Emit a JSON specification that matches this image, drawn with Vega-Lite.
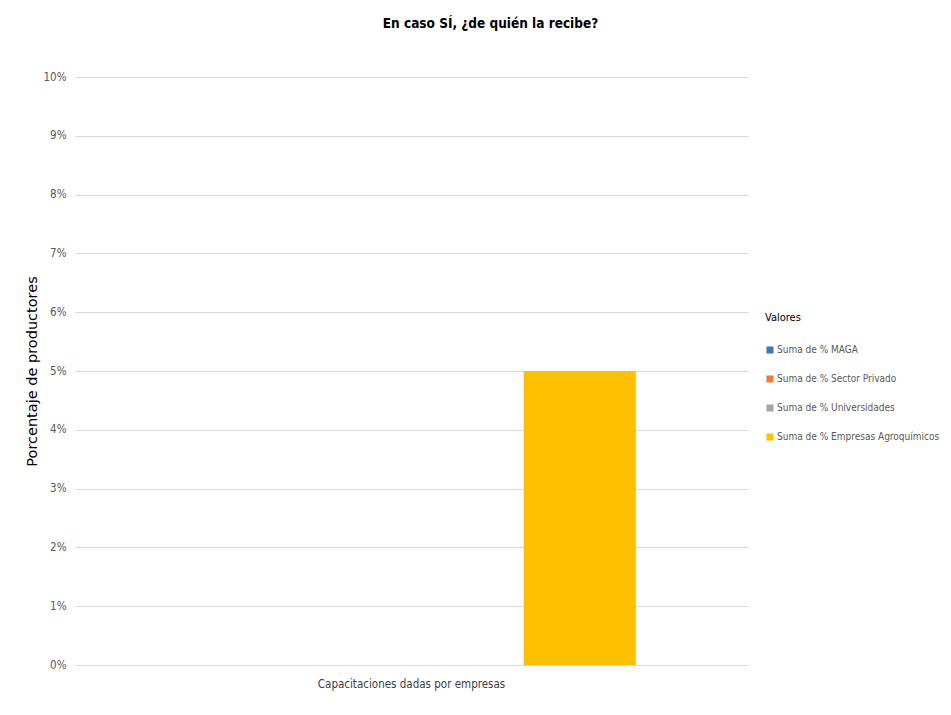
{
  "$schema": "https://vega.github.io/schema/vega-lite/v6.json",
  "width": 673,
  "height": 588,
  "autosize": {"type": "none"},
  "padding": {"left": 75, "top": 77, "right": 203, "bottom": 50},
  "background": "white",
  "title": {
    "text": "En caso SÍ, ¿de quién la recibe?",
    "font": "DejaVu Sans Condensed",
    "fontSize": 13.5,
    "fontWeight": "bold",
    "color": "#000000",
    "anchor": "middle",
    "dx": 79,
    "offset": 41
  },
  "data": {
    "values": [
      {"categoria": "Capacitaciones dadas por empresas", "serie": "Suma de % MAGA", "valor": 0},
      {"categoria": "Capacitaciones dadas por empresas", "serie": "Suma de % Sector Privado", "valor": 0},
      {"categoria": "Capacitaciones dadas por empresas", "serie": "Suma de % Universidades", "valor": 0},
      {"categoria": "Capacitaciones dadas por empresas", "serie": "Suma de % Empresas Agroquímicos", "valor": 0.05}
    ]
  },
  "mark": {"type": "bar"},
  "encoding": {
    "x": {
      "field": "categoria",
      "type": "nominal",
      "scale": {"paddingInner": 0, "paddingOuter": 0},
      "axis": {
        "title": null,
        "labelAngle": 0,
        "labelFont": "DejaVu Sans Condensed",
        "labelFontSize": 11.5,
        "labelColor": "#404040",
        "labelPadding": 13,
        "labelLimit": 0,
        "ticks": false,
        "domain": false,
        "labelAlign": "center"
      }
    },
    "xOffset": {
      "field": "serie",
      "type": "nominal",
      "sort": ["Suma de % MAGA", "Suma de % Sector Privado", "Suma de % Universidades", "Suma de % Empresas Agroquímicos"],
      "scale": {"paddingInner": 0, "paddingOuter": 1.09}
    },
    "y": {
      "field": "valor",
      "type": "quantitative",
      "scale": {"domain": [0, 0.1], "nice": false},
      "axis": {
        "format": ".0%",
        "values": [0, 0.01, 0.02, 0.03, 0.04, 0.05, 0.06, 0.07, 0.08, 0.09, 0.1],
        "labelOverlap": false,
        "title": "Porcentaje de productores",
        "titleFont": "DejaVu Sans",
        "titleFontSize": 14.5,
        "titleFontWeight": "normal",
        "titleColor": "#000000",
        "titlePadding": 4,
        "labelFont": "DejaVu Sans Condensed",
        "labelFontSize": 11.5,
        "labelColor": "#595959",
        "labelPadding": 9,
        "ticks": false,
        "domain": false,
        "grid": true,
        "gridColor": "#d9d9d9",
        "gridWidth": 1
      }
    },
    "color": {
      "field": "serie",
      "type": "nominal",
      "sort": ["Suma de % MAGA", "Suma de % Sector Privado", "Suma de % Universidades", "Suma de % Empresas Agroquímicos"],
      "scale": {
        "domain": ["Suma de % MAGA", "Suma de % Sector Privado", "Suma de % Universidades", "Suma de % Empresas Agroquímicos"],
        "range": ["#4472C4", "#ED7D31", "#A5A5A5", "#FFC000"]
      },
      "legend": {
        "title": "Valores",
        "orient": "none",
        "legendX": 690,
        "legendY": 235,
        "titleFont": "DejaVu Sans Condensed",
        "titleFontSize": 11,
        "titleFontWeight": "normal",
        "titleColor": "#000000",
        "titlePadding": 22,
        "labelFont": "DejaVu Sans Condensed",
        "labelFontSize": 10,
        "labelColor": "#595959",
        "labelOffset": 2,
        "labelLimit": 0,
        "symbolType": "square",
        "symbolSize": 50,
        "symbolStrokeWidth": 0,
        "rowPadding": 19
      }
    }
  },
  "config": {
    "view": {"stroke": null}
  }
}
